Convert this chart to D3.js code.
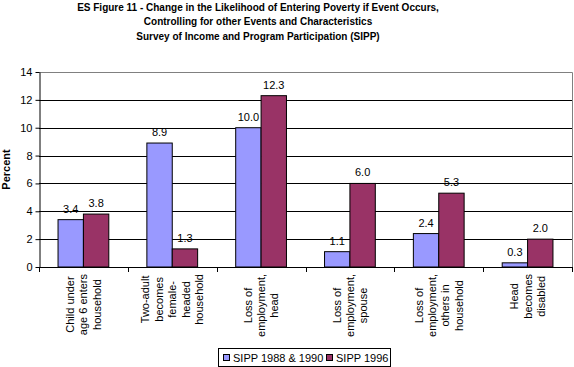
<!DOCTYPE html>
<html>
<head>
<meta charset="utf-8">
<script src="https://cdn.jsdelivr.net/npm/d3@7"></script>
<style>
  body { margin: 0; background: #fff; }
  text { font-family: Arial, "Liberation Sans", sans-serif; fill: #000; }
</style>
</head>
<body>
<div id="chart"></div>
<script>
const titleLines = [
    "ES Figure 11 - Change in the Likelihood of Entering Poverty if Event Occurs,",
    "Controlling for other Events and Characteristics",
    "Survey of Income and Program Participation (SIPP)"
];
const categories = [
    ["Child under", "age 6 enters", "household"],
    ["Two-adult", "becomes", "female-", "headed", "household"],
    ["Loss of", "employment,", "head"],
    ["Loss of", "employment,", "spouse"],
    ["Loss of", "employment,", "others in", "household"],
    ["Head", "becomes", "disabled"]
];
const seriesNames = ["SIPP 1988 & 1990", "SIPP 1996"];
const sipp8890 = [3.4, 8.9, 10.0, 1.1, 2.4, 0.3];
const sipp1996 = [3.8, 1.3, 12.3, 6.0, 5.3, 2.0];
const yTicks = [0, 2, 4, 6, 8, 10, 12, 14];
const colors = ["#9999FF", "#993366"];

const width = 574, height = 367;
const plot = { left: 39, right: 572, top: 72, bottom: 267 };

const svg = d3.select("#chart").append("svg")
    .attr("width", width)
    .attr("height", height);

// title
svg.append("g").selectAll("text")
    .data(titleLines)
    .enter().append("text")
    .attr("x", 258)
    .attr("y", (d, i) => 11 + i * 14.3)
    .attr("text-anchor", "middle")
    .style("font-size", "10px")
    .style("font-weight", "bold")
    .text(d => d);

// excel-style: equal category slots, 2 bars + 150% gap
const x0 = d3.scaleBand()
    .domain(d3.range(categories.length))
    .range([plot.left, plot.right]);
const slot = x0.bandwidth();
const barW = slot / 3.5;
const x1 = d3.scaleBand()
    .domain([0, 1])
    .range([slot * 0.75 / 3.5, slot * 0.75 / 3.5 + 2 * barW]);

const y = d3.scaleLinear().domain([0, 14]).range([plot.bottom, plot.top]);

// gridlines
svg.append("g").selectAll("line")
    .data(yTicks.filter(t => t > 0 && t < 14))
    .enter().append("line")
    .attr("x1", plot.left).attr("x2", plot.right)
    .attr("y1", d => Math.round(y(d)) + 0.5).attr("y2", d => Math.round(y(d)) + 0.5)
    .attr("stroke", "#000");

// plot border (top & right, grey)
svg.append("path")
    .attr("d", `M${plot.left},${Math.round(y(14)) + 0.5}H${plot.right + 0.5}V${plot.bottom}`)
    .attr("fill", "none")
    .attr("stroke", "#808080");

// bars
const series = [sipp8890, sipp1996];
series.forEach((vals, s) => {
    svg.append("g").selectAll("rect")
        .data(vals)
        .enter().append("rect")
        .attr("x", (d, i) => x0(i) + x1(s))
        .attr("y", d => y(d))
        .attr("width", x1.bandwidth())
        .attr("height", d => plot.bottom - y(d))
        .attr("fill", colors[s])
        .attr("stroke", "#000")
        .attr("stroke-width", 1);

    svg.append("g").selectAll("text")
        .data(vals)
        .enter().append("text")
        .attr("x", (d, i) => x0(i) + x1(s) + x1.bandwidth() / 2)
        .attr("y", d => y(d) - 7)
        .attr("text-anchor", "middle")
        .style("font-size", "11px")
        .text(d => d.toFixed(1));
});

// y axis
const yAxis = d3.axisLeft(y).tickValues(yTicks).tickSize(4).tickSizeOuter(0);
const gy = svg.append("g")
    .attr("transform", `translate(${plot.left + 0.5},0)`)
    .call(yAxis);
gy.select(".domain").attr("stroke", "#000");
gy.selectAll(".tick line").attr("stroke", "#000");
gy.selectAll(".tick text")
    .attr("x", -7)
    .style("font-size", "11px")
    .style("font-family", "Arial, 'Liberation Sans', sans-serif");

svg.append("text")
    .attr("transform", `translate(10,${(plot.top + plot.bottom) / 2}) rotate(-90)`)
    .attr("text-anchor", "middle")
    .style("font-size", "11px")
    .style("font-weight", "bold")
    .text("Percent");

// x axis line and category ticks
const gx = svg.append("g");
gx.append("line")
    .attr("x1", plot.left).attr("x2", plot.right + 1)
    .attr("y1", plot.bottom + 0.5).attr("y2", plot.bottom + 0.5)
    .attr("stroke", "#000");
gx.selectAll("line.tick")
    .data(d3.range(categories.length + 1))
    .enter().append("line")
    .attr("class", "tick")
    .attr("x1", i => Math.round(plot.left + i * slot) + 0.5)
    .attr("x2", i => Math.round(plot.left + i * slot) + 0.5)
    .attr("y1", plot.bottom).attr("y2", plot.bottom + 5)
    .attr("stroke", "#000");

// category labels, rotated, lines centred
const lineH = 13.4;
categories.forEach((lines, i) => {
    const cx = x0(i) + slot / 2;
    const g = gx.append("g");
    const texts = g.selectAll("text")
        .data(lines)
        .enter().append("text")
        .attr("text-anchor", "middle")
        .style("font-size", "11px")
        .text(d => d);
    let maxLen = 0;
    texts.each(function() { maxLen = Math.max(maxLen, this.getComputedTextLength()); });
    const cy = 274 + maxLen / 2;
    texts.attr("transform", (d, k) => {
        const lx = cx + (k - (lines.length - 1) / 2) * lineH + 4;
        return `translate(${lx},${cy}) rotate(-90)`;
    });
});

// legend
const leg = svg.append("g").attr("transform", "translate(218,348)");
leg.append("rect")
    .attr("x", 0.5).attr("y", 0.5)
    .attr("width", 172).attr("height", 18)
    .attr("fill", "#fff").attr("stroke", "#000");
const legX = [5, 108];
seriesNames.forEach((name, s) => {
    leg.append("rect")
        .attr("x", legX[s] + 0.5).attr("y", 6.5)
        .attr("width", 6).attr("height", 6)
        .attr("fill", colors[s]).attr("stroke", "#000");
    leg.append("text")
        .attr("x", legX[s] + 10)
        .attr("y", 13.5)
        .style("font-size", "11px")
        .text(name);
});
</script>
</body>
</html>
